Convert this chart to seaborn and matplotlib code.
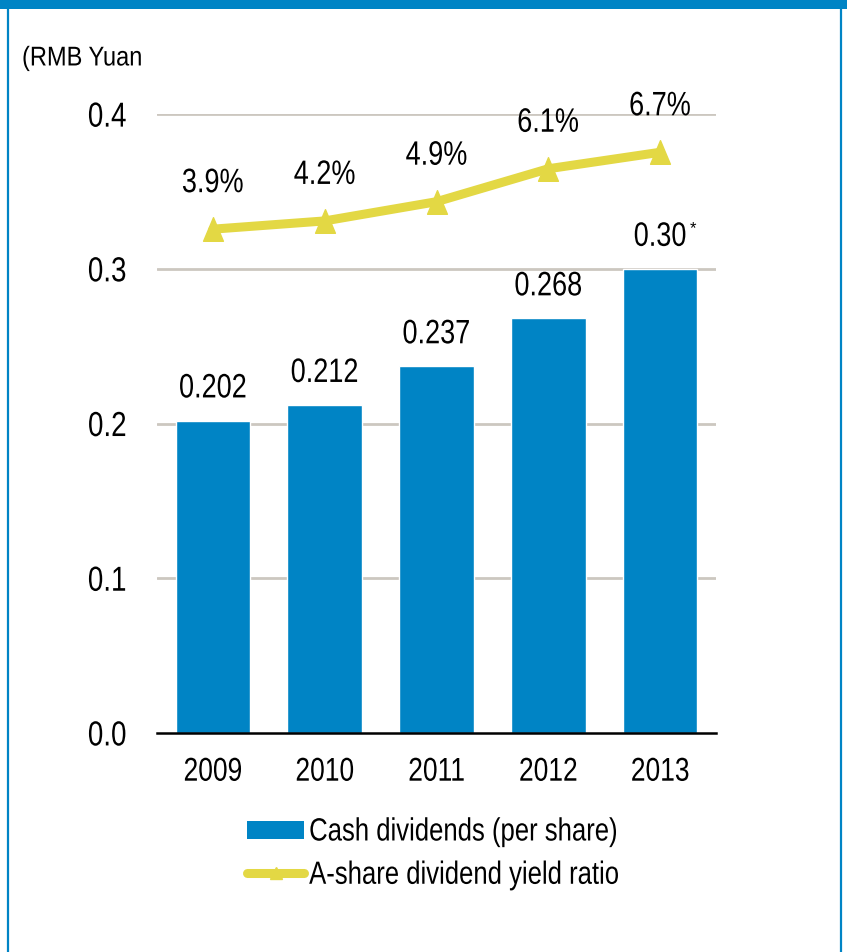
import matplotlib
matplotlib.use("Agg")
import matplotlib.pyplot as plt
import matplotlib.patches as mpatches
from matplotlib.lines import Line2D
from matplotlib.path import Path
from matplotlib.patheffects import AbstractPathEffect
from matplotlib.transforms import Affine2D
import seaborn as sns
import pandas as pd

years = ["2009", "2010", "2011", "2012", "2013"]
cash_dividends = [0.202, 0.212, 0.237, 0.268, 0.30]
dividend_labels = ["0.202", "0.212", "0.237", "0.268", "0.30"]
yield_ratio = [3.9, 4.2, 4.9, 6.1, 6.7]
yield_labels = ["3.9%", "4.2%", "4.9%", "6.1%", "6.7%"]
y_ticks = [0.0, 0.1, 0.2, 0.3, 0.4]
y_tick_labels = ["0.0", "0.1", "0.2", "0.3", "0.4"]

BLUE = "#0084C5"
YELLOW = "#E3D844"
GRID = "#CCC7C0"
INK = "#000000"


class TallText(AbstractPathEffect):
    """Draw text glyphs stretched vertically about their own centre."""

    def __init__(self, factor=1.25):
        super().__init__()
        self.factor = factor

    def draw_path(self, renderer, gc, tpath, affine, rgbFace=None):
        ext = tpath.get_extents(affine)
        cy = 0.5 * (ext.y0 + ext.y1)
        stretch = Affine2D().translate(0, -cy).scale(1, self.factor).translate(0, cy)
        renderer.draw_path(gc, tpath, affine + stretch, rgbFace)


TALL = [TallText(1.25)]
# slightly tall triangle used for the yield markers
TRIANGLE = Path([(-0.42, -0.5), (0.42, -0.5), (0.0, 0.5), (-0.42, -0.5)], closed=True)

sns.set_theme(style="white")
plt.rcParams["font.family"] = ["Liberation Sans", "DejaVu Sans"]

df = pd.DataFrame({"year": years, "cash": cash_dividends, "yield": yield_ratio})

fig = plt.figure(figsize=(8.47, 9.52), dpi=100)
ax = fig.add_axes([0.1854, 0.230, 0.660, 0.650])

sns.barplot(data=df, x="year", y="cash", color=BLUE, saturation=1,
            width=0.667, ax=ax, zorder=3)
ax.set_ylim(0, 0.4)
ax.set_xlim(-0.5, 4.5)
ax.set_yticks(y_ticks)
ax.set_yticklabels(y_tick_labels)
ax.set_xlabel("")
ax.set_ylabel("")
for y in y_ticks[1:]:
    ax.axhline(y, color=GRID, lw=2, zorder=1)
for side in ["top", "right", "left"]:
    ax.spines[side].set_visible(False)
ax.spines["bottom"].set_color("black")
ax.spines["bottom"].set_linewidth(1.8)
ax.spines["bottom"].set_zorder(4)
ax.tick_params(axis="y", length=0, pad=22, labelsize=20, colors=INK)
ax.tick_params(axis="x", length=0, pad=19, labelsize=19, colors=INK)
for lab in ax.get_xticklabels() + ax.get_yticklabels():
    lab.set_path_effects(TALL)

bars = ax.containers[0]
for t in ax.bar_label(bars, labels=dividend_labels, padding=14, fontsize=19.5, color=INK):
    t.set_path_effects(TALL)
# superscript asterisk on the 2013 figure
last = bars[-1]
ax.annotate("*", xy=(last.get_x() + last.get_width() / 2, last.get_height()),
            xytext=(21, 29), textcoords="offset points", fontsize=12,
            ha="left", va="center", color=INK)

# dividend yield on a hidden secondary scale
ax2 = ax.twinx()
sns.pointplot(data=df, x="year", y="yield", color=YELLOW, markers=TRIANGLE,
              linestyles="-", linewidth=6.5, markersize=17,
              markeredgewidth=1, ax=ax2, native_scale=False)
ax2.set_ylim(-14.45, 8.085)
ax2.set_xlim(-0.5, 4.5)
ax2.axis("off")
for i, (v, lab) in enumerate(zip(yield_ratio, yield_labels)):
    t = ax2.annotate(lab, xy=(i, v), xytext=(0, 24), textcoords="offset points",
                     ha="center", va="bottom", fontsize=19.5, color=INK)
    t.set_path_effects(TALL)

fig.text(0.026, 0.9385, "(RMB Yuan", fontsize=17, color=INK,
         ha="left", va="center", path_effects=[TallText(1.15)])

handles = [
    mpatches.Patch(facecolor=BLUE, edgecolor="none", label="Cash dividends (per share)"),
    Line2D([0], [0], color=YELLOW, lw=6.5, marker="^", markersize=9,
           label="A-share dividend yield ratio"),
]
leg = fig.legend(handles=handles, loc="center", bbox_to_anchor=(0.512, 0.1035),
                 frameon=False, fontsize=18.5, handlelength=2.2, handleheight=0.7,
                 handletextpad=0.2, labelspacing=0.75, borderaxespad=0,
                 labelcolor=INK)
for t in leg.get_texts():
    t.set_path_effects(TALL)

# frame around the figure
fig.patches.append(mpatches.Rectangle((0, 0.9905), 1, 0.0095, transform=fig.transFigure,
                                      facecolor=BLUE, edgecolor="none", zorder=10))
fig.add_artist(Line2D([0.0095, 0.0095], [0, 1], transform=fig.transFigure,
                      color=BLUE, lw=1.6))
fig.add_artist(Line2D([0.9935, 0.9935], [0, 1], transform=fig.transFigure,
                      color=BLUE, lw=1.6))

fig.savefig("out.png", dpi=100)
